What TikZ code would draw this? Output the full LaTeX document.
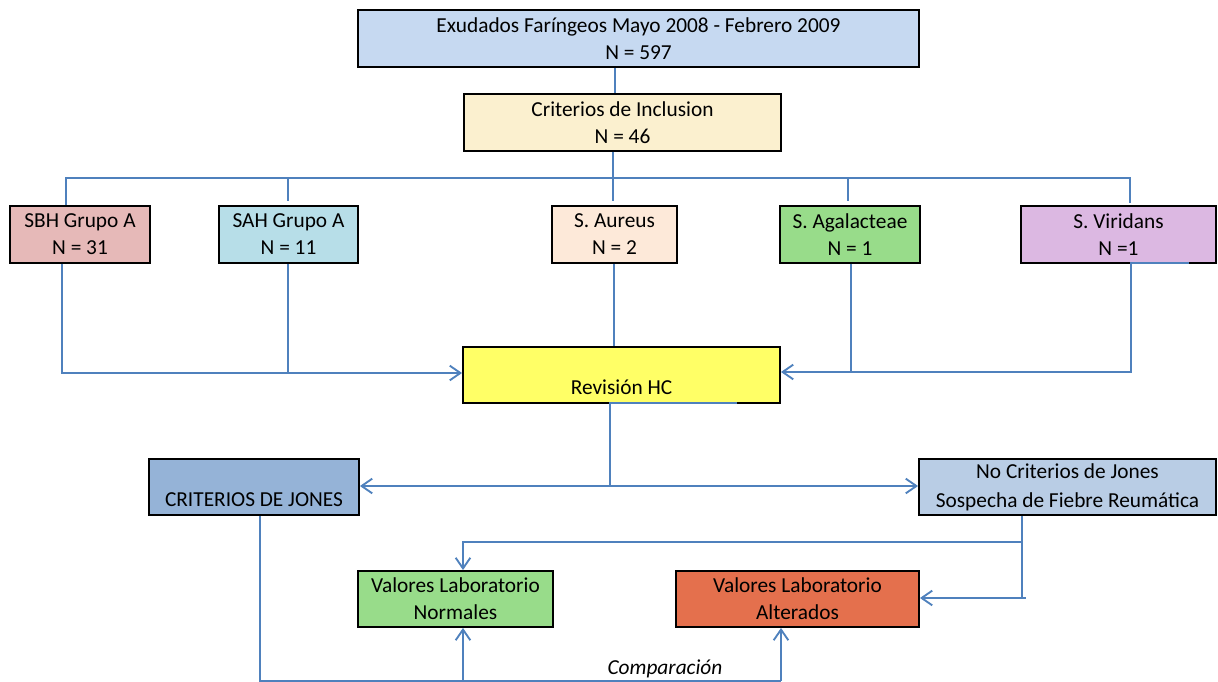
\documentclass[tikz,border=0pt]{standalone}
\usepackage{fontspec}
\setmainfont{Carlito}
\usetikzlibrary{arrows.meta}
\definecolor{cTop}{HTML}{C6D9F1}
\definecolor{cInc}{HTML}{FBF0CF}
\definecolor{cSBH}{HTML}{E6B9B8}
\definecolor{cSAH}{HTML}{B7DEE8}
\definecolor{cAur}{HTML}{FDE9D9}
\definecolor{cAga}{HTML}{98DC8A}
\definecolor{cVir}{HTML}{DCB8E2}
\definecolor{cRev}{HTML}{FFFF66}
\definecolor{cJon}{HTML}{95B3D7}
\definecolor{cNoj}{HTML}{B9CDE5}
\definecolor{cNor}{HTML}{98DC8A}
\definecolor{cAlt}{HTML}{E4704D}
\definecolor{cLine}{HTML}{4F81BD}
\begin{document}
\begin{tikzpicture}[x=0.75pt,y=-0.75pt,
  box/.style={draw=black, line width=1.4pt, inner sep=0pt, align=center,
    font=\fontsize{16}{20.25}\selectfont,
    execute at begin node={\rule{0pt}{14.5pt}}},
  conn/.style={draw=cLine, line width=1.4pt},
  arr/.style={conn, -{Straight Barb[length=8pt,width=11pt,line width=1.4pt]}}]
\useasboundingbox (0,0) rectangle (1218,682);
% boxes
\node[box, fill=cTop, minimum width=561*0.75pt, minimum height=57*0.75pt] (top) at (638.5,38.5) {Exudados Faríngeos Mayo 2008 - Febrero 2009\\N = 597};
\node[box, fill=cInc, minimum width=317*0.75pt, minimum height=57*0.75pt] (inc) at (622.5,122.5) {Criterios de Inclusion\\N = 46};
\node[box, fill=cSBH, minimum width=140*0.75pt, minimum height=57*0.75pt] (sbh) at (80,234.5) {SBH Grupo A\\N = 31};
\node[box, fill=cSAH, minimum width=139*0.75pt, minimum height=57*0.75pt] (sah) at (288.5,234.5) {SAH Grupo A\\N = 11};
\node[box, fill=cAur, minimum width=125*0.75pt, minimum height=57*0.75pt] (aur) at (614.5,234.5) {S. Aureus\\N = 2};
\node[box, fill=cAga, minimum width=140*0.75pt, minimum height=57*0.75pt] (aga) at (850,234.5) {S. Agalacteae\\N = 1};
\node[box, fill=cVir, minimum width=195*0.75pt, minimum height=57*0.75pt] (vir) at (1118.5,234.5) {S. Viridans\\N =1};
\node[box, fill=cRev, minimum width=317*0.75pt, minimum height=56*0.75pt] (rev) at (621.5,375) {\mbox{}\\[9pt]Revisión HC};
\node[box, fill=cJon, minimum width=210*0.75pt, minimum height=56*0.75pt] (jon) at (254,487) {\mbox{}\\[9pt]CRITERIOS DE JONES};
\node[box, fill=cNoj, minimum width=297*0.75pt, minimum height=56*0.75pt] (noj) at (1067.5,487) {No Criterios de Jones\\[1.5pt]Sospecha de Fiebre Reumática};
\node[box, fill=cNor, minimum width=195*0.75pt, minimum height=56*0.75pt] (nor) at (455.5,599) {Valores Laboratorio\\Normales};
\node[box, fill=cAlt, minimum width=243*0.75pt, minimum height=56*0.75pt] (alt) at (797.5,599) {Valores Laboratorio\\Alterados};
% helper coordinates
\coordinate (bus) at (613,178);
\coordinate (revL) at (288,373);
\coordinate (revR) at (851,372);
\coordinate (split) at (610,486);
\coordinate (labsplit) at (1022,542);
\coordinate (altin) at (1022,598);
\coordinate (cmp) at (463,681);
\coordinate (cmpR) at (781,681);
\node[font=\itshape\fontsize{16}{18}\selectfont, inner sep=0pt] (comp) at (665,669) {Comparación};
% connectors
\draw[conn] (top.south -| 615,0) -- (inc.north -| 615,0);
\draw[conn] (inc.south -| bus) -- (bus);
\draw[conn] (sbh.north -| 66,0) -- (66,178) -- (1130,178) -- ([yshift=1.5pt]vir.north -| 1130,0);
\draw[conn] (bus) -- ([yshift=3pt]aur.north -| bus);
\draw[conn] (288,178) -- ([yshift=3pt]sah.north -| 288,0);
\draw[conn] (848,178) -- ([yshift=3pt]aga.north -| 848,0);
% to revision
\draw[arr] (sbh.south -| 62,0) -- (62,373) -- (rev.west |- revL);
\draw[conn] (sah.south -| revL) -- (revL);
\draw[conn] (aur.south -| 613.6,0) -- (rev.north -| 613.6,0);
\draw[conn] (aga.south -| revR) -- (revR);
\draw[arr] ([yshift=0.7pt]vir.south -| 1189,0) -- ([yshift=0.7pt]vir.south -| 1131,0) -- (1131,372) -- (rev.east |- revR);
% from revision
\draw[conn] ([yshift=0.7pt]rev.south -| 737,0) -- ([yshift=0.7pt]rev.south -| split) -- (split);
\draw[arr] (split) -- (jon.east |- split);
\draw[arr] (split) -- (noj.west |- split);
% lower part
\draw[arr] (noj.south -| altin) -- (labsplit) -- (463,542) -- (nor.north -| 463,0);
\draw[conn] (labsplit) -- (altin) -- (1026,598);
\draw[arr] (altin) -- (alt.east |- altin);
\draw[conn] (jon.south -| 260,0) -- (260,681) -- (cmpR);
\draw[arr] (cmp) -- (nor.south -| cmp);
\draw[arr] (cmpR) -- (alt.south -| cmpR);
\end{tikzpicture}
\end{document}
